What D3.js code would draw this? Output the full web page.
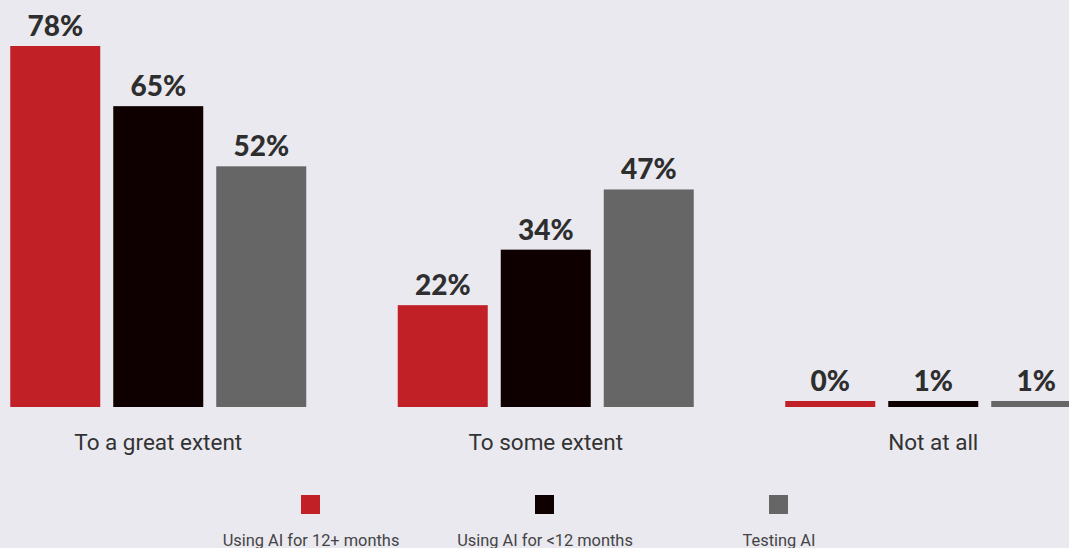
<!DOCTYPE html>
<html>
<head>
<meta charset="utf-8">
<script src="https://cdn.jsdelivr.net/npm/d3@7"></script>
<style>
  html, body { margin: 0; padding: 0; background: #eae9f0; }
  svg { display: block; }
</style>
</head>
<body>
<svg id="chart" width="1069" height="548"></svg>
<script>
// Response categories and the three adoption groups
const categories = ["To a great extent", "To some extent", "Not at all"];
const series = ["Using AI for 12+ months", "Using AI for <12 months", "Testing AI"];
const valuesLong = [78, 22, 0];     // Using AI for 12+ months
const valuesShort = [65, 34, 1];    // Using AI for <12 months
const valuesTesting = [52, 47, 1];  // Testing AI
const colors = ["#c02026", "#0e0000", "#666666"];

const seriesValues = [valuesLong, valuesShort, valuesTesting];
const rows = categories.map((c, i) => ({
  category: c,
  bars: series.map((s, j) => ({ series: s, value: seriesValues[j][i], color: colors[j] }))
}));

const svg = d3.select("#chart");
const baseline = 407;

const x0 = d3.scaleBand().domain(categories).range([-35.5, 1127]).paddingInner(0).paddingOuter(0);
const inner = 296;
const x1 = d3.scaleBand().domain(series).range([0, inner]).paddingInner(13 / 103).paddingOuter(0);
const y = d3.scaleLinear().domain([0, 78]).range([baseline, 46]);
const minBar = 6;

const groups = svg.selectAll("g.group").data(rows).join("g")
  .attr("class", "group")
  .attr("transform", d => `translate(${x0(d.category) + (x0.bandwidth() - inner) / 2},0)`);

groups.selectAll("rect").data(d => d.bars).join("rect")
  .attr("x", d => x1(d.series))
  .attr("width", x1.bandwidth())
  .attr("y", d => Math.min(y(d.value), baseline - minBar))
  .attr("height", d => Math.max(baseline - y(d.value), minBar))
  .attr("fill", d => d.color);

groups.selectAll("text.val").data(d => d.bars).join("text")
  .attr("class", "val")
  .attr("x", d => x1(d.series) + x1.bandwidth() / 2)
  .attr("y", d => Math.min(y(d.value), baseline - minBar) - 10)
  .attr("text-anchor", "middle")
  .attr("font-family", "Lato, Inter, sans-serif")
  .attr("font-weight", 900)
  .attr("font-size", 28)
  .attr("fill", "#2e2e2e")
  .text(d => d.value + "%");

// Category axis labels (no axis line drawn)
const xAxis = d3.axisBottom(x0).tickSize(0).tickPadding(0);
const axisG = svg.append("g").attr("transform", `translate(0,${baseline + 26})`).call(xAxis);
axisG.select(".domain").remove();
axisG.selectAll("text")
  .attr("dy", "0.75em")
  .attr("font-family", "Roboto, 'Noto Sans', sans-serif")
  .attr("font-size", 22.5)
  .attr("fill", "#333333");

// Legend
const legendX = d3.scalePoint().domain(series).range([311, 779]);
const legend = svg.selectAll("g.legend").data(series).join("g")
  .attr("class", "legend")
  .attr("transform", d => `translate(${legendX(d)},0)`);
legend.append("rect")
  .attr("x", -10).attr("y", 495).attr("width", 19).attr("height", 19)
  .attr("fill", (d, i) => colors[i]);
legend.append("text")
  .attr("x", 0).attr("y", 546)
  .attr("text-anchor", "middle")
  .attr("font-family", "Roboto, 'Noto Sans', sans-serif")
  .attr("font-size", 16.4)
  .attr("fill", "#444444")
  .text(d => d);
</script>
</body>
</html>
